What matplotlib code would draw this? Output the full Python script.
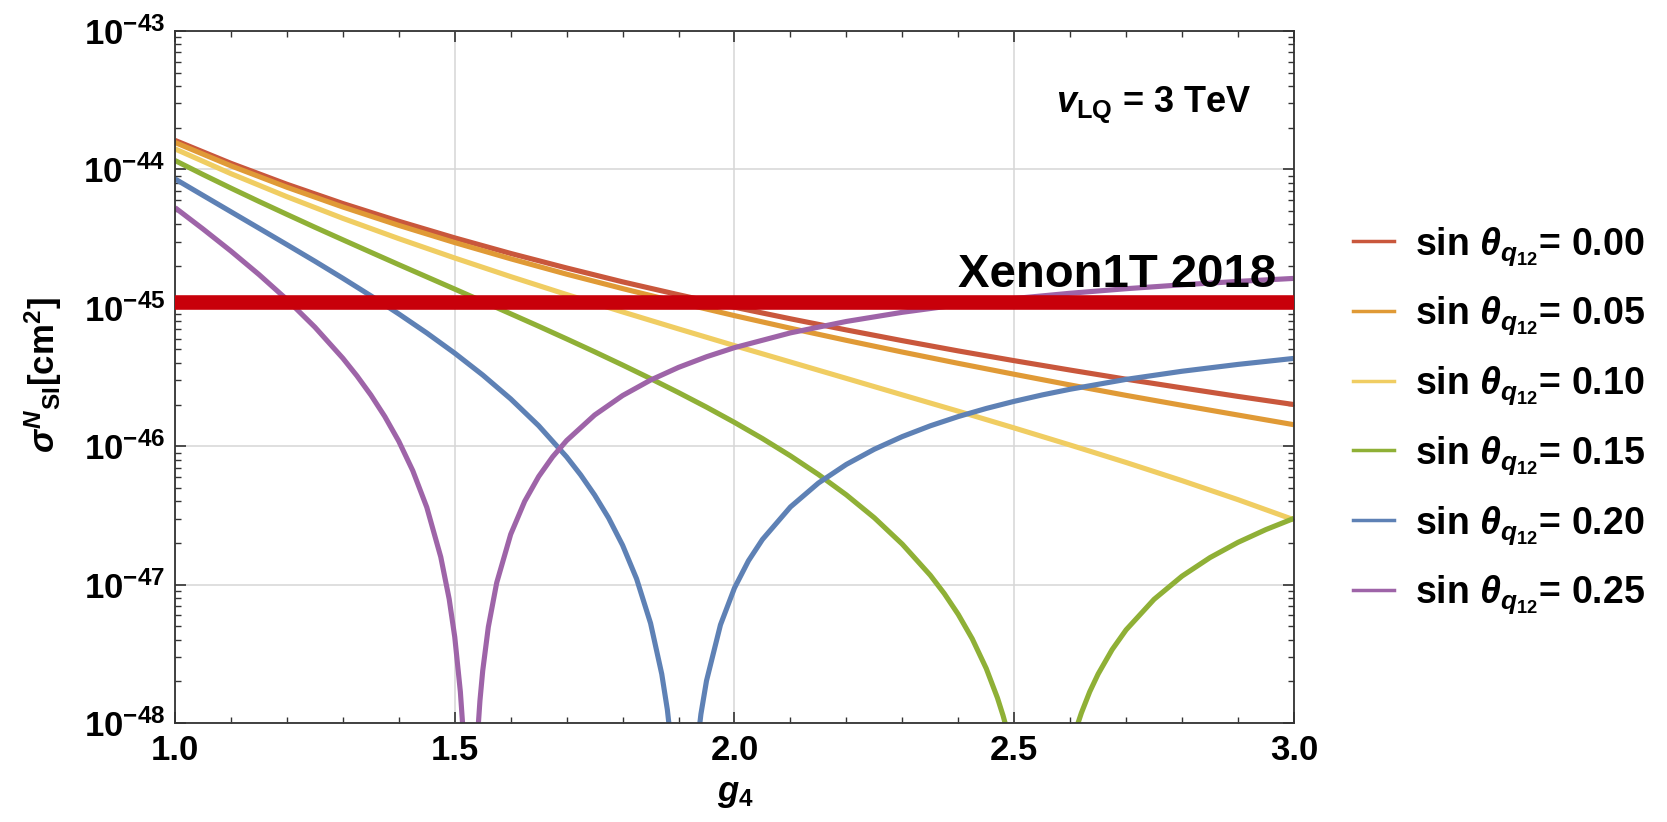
import matplotlib
matplotlib.use('Agg')
import matplotlib.pyplot as plt
from matplotlib.ticker import MultipleLocator, LogLocator, NullFormatter
from matplotlib.lines import Line2D

plt.rcParams['font.family'] = ['Liberation Sans', 'DejaVu Sans']
plt.rcParams['font.weight'] = 'bold'
plt.rcParams['mathtext.fontset'] = 'custom'
plt.rcParams['mathtext.rm'] = 'Liberation Sans:bold'
plt.rcParams['mathtext.bf'] = 'Liberation Sans:bold'
plt.rcParams['mathtext.sf'] = 'Liberation Sans:bold'
plt.rcParams['mathtext.it'] = 'Liberation Sans:bold:italic'

# values (sigma in cm^2 vs g4)
g_grid = [1.0, 1.1, 1.2, 1.3, 1.4, 1.5, 1.6, 1.7, 1.8, 1.9, 2.0,
          2.1, 2.2, 2.3, 2.4, 2.5, 2.6, 2.7, 2.8, 2.9, 3.0]
sig_000 = [1.62e-44, 1.106e-44, 7.81e-45, 5.67e-45, 4.22e-45, 3.20e-45, 2.47e-45,
           1.94e-45, 1.54e-45, 1.243e-45, 1.01e-45, 8.33e-46, 6.92e-46, 5.79e-46,
           4.88e-46, 4.15e-46, 3.55e-46, 3.05e-46, 2.64e-46, 2.29e-46, 2.00e-46]
sig_005 = [1.565e-44, 1.061e-44, 7.43e-45, 5.35e-45, 3.94e-45, 2.96e-45, 2.26e-45,
           1.75e-45, 1.377e-45, 1.094e-45, 8.78e-46, 7.12e-46, 5.82e-46, 4.79e-46,
           3.97e-46, 3.31e-46, 2.77e-46, 2.33e-46, 1.975e-46, 1.68e-46, 1.43e-46]
sig_010 = [1.406e-44, 9.31e-45, 6.35e-45, 4.43e-45, 3.16e-45, 2.29e-45, 1.68e-45,
           1.247e-45, 9.34e-46, 7.04e-46, 5.33e-46, 4.06e-46, 3.09e-46, 2.35e-46,
           1.79e-46, 1.355e-46, 1.02e-46, 7.63e-47, 5.64e-47, 4.11e-47, 2.94e-47]

g_015 = [1.0, 1.05, 1.1, 1.15, 1.2, 1.25, 1.3, 1.35, 1.4, 1.45, 1.5, 1.55, 1.6,
         1.65, 1.7, 1.75, 1.8, 1.85, 1.9, 1.95, 2.0, 2.05, 2.1, 2.15, 2.2, 2.25,
         2.3, 2.35, 2.375, 2.4, 2.425, 2.45, 2.47, 2.48, 2.49, 2.52, 2.55, 2.58,
         2.6, 2.61, 2.62, 2.635, 2.65, 2.675, 2.7, 2.75, 2.8, 2.85, 2.9, 2.95, 3.0]
sig_015 = [1.159e-44, 9.18e-45, 7.32e-45, 5.87e-45, 4.73e-45, 3.82e-45, 3.10e-45,
           2.52e-45, 2.05e-45, 1.673e-45, 1.365e-45, 1.112e-45, 9.05e-46, 7.36e-46,
           5.96e-46, 4.81e-46, 3.86e-46, 3.08e-46, 2.44e-46, 1.916e-46, 1.486e-46,
           1.136e-46, 8.52e-47, 6.25e-47, 4.45e-47, 3.04e-47, 1.96e-47, 1.169e-47,
           8.62e-48, 6.09e-48, 4.06e-48, 2.48e-48, 1.521e-48, 1.135e-48, 8.09e-49,
           1.71e-49, 3e-51, 2.58e-49, 6.41e-49, 8.92e-49, 1.18e-48, 1.683e-48,
           2.26e-48, 3.39e-48, 4.71e-48, 7.83e-48, 1.152e-47, 1.568e-47, 2.02e-47,
           2.50e-47, 3.01e-47]

g_020 = [1.0, 1.05, 1.1, 1.15, 1.2, 1.25, 1.3, 1.35, 1.4, 1.45, 1.5, 1.55, 1.6,
         1.65, 1.7, 1.725, 1.75, 1.775, 1.8, 1.825, 1.85, 1.87, 1.88, 1.89, 1.9,
         1.91, 1.92, 1.93, 1.94, 1.95, 1.975, 2.0, 2.025, 2.05, 2.1, 2.15, 2.2,
         2.25, 2.3, 2.35, 2.4, 2.45, 2.5, 2.55, 2.6, 2.7, 2.8, 2.9, 3.0]
sig_020 = [8.53e-45, 6.49e-45, 4.94e-45, 3.76e-45, 2.86e-45, 2.17e-45, 1.634e-45,
           1.221e-45, 9.03e-46, 6.58e-46, 4.70e-46, 3.27e-46, 2.197e-46, 1.406e-46,
           8.37e-47, 6.21e-47, 4.44e-47, 3.03e-47, 1.926e-47, 1.102e-47, 5.26e-48,
           2.26e-48, 1.249e-48, 5.43e-49, 1.32e-49, 3e-53, 1.35e-49, 5.26e-49,
           1.159e-48, 2.02e-48, 5.13e-48, 9.46e-48, 1.487e-47, 2.12e-47, 3.64e-47,
           5.42e-47, 7.39e-47, 9.51e-47, 1.174e-46, 1.404e-46, 1.638e-46, 1.874e-46,
           2.11e-46, 2.347e-46, 2.58e-46, 3.04e-46, 3.48e-46, 3.90e-46, 4.31e-46]

g_025 = [1.0, 1.05, 1.1, 1.15, 1.2, 1.25, 1.3, 1.325, 1.35, 1.375, 1.4, 1.425,
         1.45, 1.475, 1.49, 1.5, 1.51, 1.515, 1.52, 1.53, 1.54, 1.545, 1.55, 1.56,
         1.575, 1.6, 1.625, 1.65, 1.675, 1.7, 1.75, 1.8, 1.85, 1.9, 1.95, 2.0,
         2.1, 2.2, 2.3, 2.4, 2.5, 2.6, 2.7, 2.8, 2.9, 3.0]
sig_025 = [5.29e-45, 3.71e-45, 2.567e-45, 1.740e-45, 1.147e-45, 7.25e-46, 4.32e-46,
           3.23e-46, 2.345e-46, 1.638e-46, 1.085e-46, 6.65e-47, 3.62e-47, 1.583e-47,
           7.88e-48, 4.18e-48, 1.684e-48, 8.66e-49, 3.21e-49, 2.3e-50, 7.32e-49,
           1.446e-48, 2.39e-48, 4.94e-48, 1.033e-47, 2.31e-47, 4.00e-47, 6.04e-47,
           8.39e-47, 1.099e-46, 1.680e-46, 2.323e-46, 3.005e-46, 3.712e-46, 4.43e-46,
           5.155e-46, 6.59e-46, 7.97e-46, 9.28e-46, 1.052e-45, 1.167e-45, 1.274e-45,
           1.374e-45, 1.466e-45, 1.552e-45, 1.631e-45]

sin_labels = ['0.00', '0.05', '0.10', '0.15', '0.20', '0.25']
colors = ['#C9573C', '#E09A36', '#F0CD62', '#8FB036', '#5E81B5', '#9E64A8']
xenon_limit = 1.1e-45
y_exponents = [-43, -44, -45, -46, -47, -48]

series = [(g_grid, sig_000), (g_grid, sig_005), (g_grid, sig_010),
          (g_015, sig_015), (g_020, sig_020), (g_025, sig_025)]

fig = plt.figure(figsize=(16.67, 8.22), dpi=100)
ax = fig.add_axes([0.105, 0.1204, 0.6712, 0.8419])

for (gx, sy), c in zip(series, colors):
    ax.plot(gx, sy, color=c, lw=3.7, solid_capstyle='butt', solid_joinstyle='round')

ax.axhline(xenon_limit, xmin=0, xmax=0.998, color='#C8000A', lw=10.5, zorder=4)
ax.text(2.968, 1.41e-45, 'Xenon1T 2018', ha='right', va='baseline',
        fontsize=34, fontweight='bold', zorder=5)
ax.text(0.9625, 0.883, r'$v_{\mathrm{LQ}}$ = 3 TeV', transform=ax.transAxes,
        ha='right', va='baseline', fontsize=26, fontweight='bold')

ax.set_yscale('log')
ax.set_xlim(1.0, 3.0)
ax.set_ylim(1e-48, 1e-43)

ax.xaxis.set_minor_locator(MultipleLocator(0.1))
ax.set_xticks([1.0, 1.5, 2.0, 2.5, 3.0])
ax.set_xticklabels(['1.0', '1.5', '2.0', '2.5', '3.0'])
ax.set_yticks([10.0 ** e for e in y_exponents])
ax.set_yticklabels([r'$\mathrm{10^{%d}}$' % e for e in y_exponents])
ax.yaxis.set_minor_locator(LogLocator(base=10, subs=range(2, 10), numticks=20))
ax.yaxis.set_minor_formatter(NullFormatter())

ax.tick_params(which='both', direction='in', top=True, right=True, color='#333333')
ax.tick_params(which='major', length=8, width=1.2, labelsize=25)
ax.tick_params(which='minor', length=4.5, width=1.0)
ax.tick_params(axis='x', which='major', pad=8)
ax.tick_params(axis='y', which='major', pad=7)
for lab in ax.get_xticklabels() + ax.get_yticklabels():
    lab.set_fontweight('bold')

ax.grid(True, which='major', color='#d6d6d6', lw=1.1)
for sp in ax.spines.values():
    sp.set_color('#333333')
    sp.set_linewidth(1.3)

fig.text(0.441, 0.035, r'$g_4$', ha='center', va='center', fontsize=25)
fig.text(0.026, 0.544, r'$\sigma^{N}{}_{\mathrm{SI}}\mathrm{[cm^{2}]}$', rotation=90,
         ha='center', va='center', fontsize=25)

handles = [Line2D([0], [0], color=c, lw=2.5) for c in colors]
labels = [r'sin $\mathit{\theta}_{q_{\mathrm{12}}}$= ' + s for s in sin_labels]
ax.legend(handles, labels, loc='center left', bbox_to_anchor=(1.0527, 0.437),
          frameon=False, borderpad=0, borderaxespad=0, handlelength=1.1,
          handletextpad=0.55, labelspacing=0.72,
          prop={'family': 'Liberation Sans', 'weight': 'bold', 'size': 27})

fig.savefig('out.png', dpi=100)
